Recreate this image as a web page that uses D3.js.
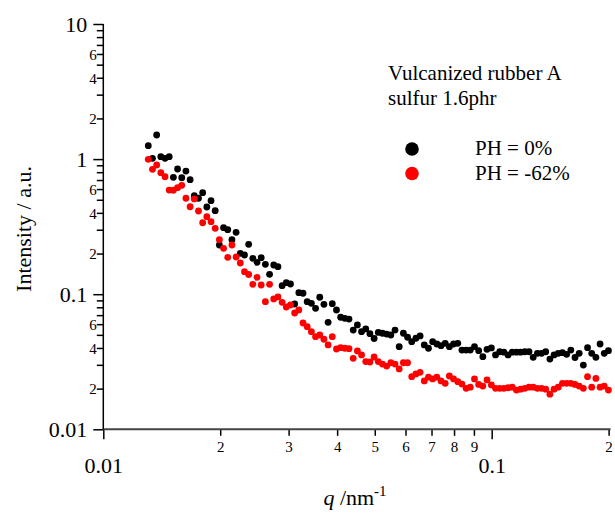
<!DOCTYPE html>
<html><head><meta charset="utf-8">
<script src="https://cdn.jsdelivr.net/npm/d3@7"></script>
<style>
body{margin:0;background:#fff}
svg{display:block}
</style>
</head><body>
<svg id="chart" width="615" height="516"></svg>
<script>
const q = [
0.013057,0.013385,0.013721,0.014065,0.014418,0.014780,0.015151,0.015532,0.015922,0.016321,
0.016731,0.017151,0.017581,0.018023,0.018475,0.018939,0.019414,0.019902,0.020401,0.020913,
0.021438,0.021976,0.022528,0.023094,0.023673,0.024267,0.024877,0.025501,0.026141,0.026797,
0.027470,0.028159,0.028866,0.029591,0.030334,0.031095,0.031876,0.032676,0.033496,0.034337,
0.035199,0.036082,0.036988,0.037917,0.038868,0.039844,0.040844,0.041869,0.042920,0.043998,
0.045102,0.046234,0.047395,0.048585,0.049804,0.051054,0.052336,0.053650,0.054997,0.056377,
0.057792,0.059243,0.060730,0.062255,0.063817,0.065419,0.067062,0.068745,0.070471,0.072240,
0.074053,0.075912,0.077818,0.079771,0.081774,0.083827,0.085931,0.088088,0.090300,0.092566,
0.094890,0.097272,0.099807,0.10231,0.10488,0.10751,0.11021,0.11298,0.11581,0.11872,
0.12170,0.12476,0.12789,0.13110,0.13439,0.13776,0.14122,0.14476,0.14840,0.15212,
0.15594,0.15986,0.16387,0.16798,0.17220,0.17652,0.18095,0.18550,0.19015,0.19493,
0.19982];

const intensityPH0 = [
1.257,1.014,1.508,1.042,1.014,1.042,0.733,0.845,0.728,0.816,
0.704,0.536,0.513,0.564,0.442,0.492,0.415,0.2313,0.3107,0.3003,
0.2532,0.2873,0.2008,0.1951,0.2341,0.1844,0.1722,0.1863,0.1665,0.1404,
0.1645,0.1598,0.1156,0.1217,0.1190,0.0846,0.1026,0.1016,0.0880,0.0856,
0.0786,0.0949,0.0842,0.0619,0.0851,0.0764,0.0675,0.0663,0.0655,0.0543,
0.0592,0.0528,0.0553,0.0510,0.0470,0.0521,0.0514,0.0507,0.0499,0.0543,
0.0409,0.0514,0.0480,0.0445,0.0472,0.0491,0.0421,0.0398,0.0445,0.0428,
0.0416,0.0433,0.0409,0.0428,0.0433,0.0386,0.0386,0.0386,0.0409,0.0382,
0.0345,0.0391,0.0400,0.0355,0.0375,0.0372,0.0355,0.0372,0.0372,0.0372,
0.0375,0.0375,0.0341,0.0365,0.0365,0.0375,0.0331,0.0355,0.0365,0.0369,
0.0359,0.0386,0.0340,0.0365,0.0299,0.0402,0.0365,0.0341,0.0428,0.0365,
0.0382];

const intensityPH62 = [
0.997,0.840,0.904,0.793,0.741,0.590,0.588,0.614,0.640,0.513,
0.444,0.507,0.413,0.338,0.375,0.344,0.3075,0.2532,0.2186,0.1875,
0.2313,0.1885,0.1702,0.1467,0.1399,0.1184,0.1334,0.1170,0.0880,0.1184,
0.0922,0.0954,0.0871,0.0804,0.0832,0.0726,0.0764,0.0612,0.0575,0.0528,
0.0485,0.0499,0.0464,0.0421,0.0485,0.0393,0.0402,0.0398,0.0395,0.0335,
0.0380,0.0355,0.0317,0.0315,0.0343,0.0317,0.0304,0.0294,0.0311,0.0304,
0.0280,0.0311,0.0311,0.0245,0.0257,0.0264,0.0228,0.0243,0.0236,0.0243,
0.0228,0.0219,0.0248,0.0236,0.0225,0.0216,0.0201,0.0205,0.0236,0.0215,
0.0209,0.0232,0.0213,0.0201,0.0201,0.0201,0.0203,0.0205,0.0195,0.0198,
0.0201,0.0205,0.0205,0.0201,0.0201,0.0198,0.0182,0.0198,0.0205,0.0219,
0.0219,0.0219,0.0215,0.0209,0.0201,0.0245,0.0205,0.0238,0.0205,0.0209,
0.0195];

const seriesNames = ["PH = 0%", "PH = -62%"];
const seriesColors = ["#000000", "#ff0000"];
const annotationLines = ["Vulcanized rubber A", "sulfur 1.6phr"];

const xMajorTicks = [0.01, 0.1];
const xMajorLabels = ["0.01", "0.1"];
const xMinorTicks = [0.02,0.03,0.04,0.05,0.06,0.07,0.08,0.09,0.2];
const xMinorLabels = ["2","3","4","5","6","7","8","9","2"];

const yMajorTicks = [0.01, 0.1, 1, 10];
const yMajorLabels = ["0.01", "0.1", "1", "10"];
const yMinorTicks = [0.02,0.03,0.04,0.05,0.06,0.07,0.08,0.09,
                     0.2,0.3,0.4,0.5,0.6,0.7,0.8,0.9,
                     2,3,4,5,6,7,8,9];
const yMinorLabelled = [2, 4, 6];

const FONT = "Liberation Serif";

const svg = d3.select("#chart");
const x = d3.scaleLog().domain([0.01, 0.2]).range([103.3, 608.6]);
const y = d3.scaleLog().domain([0.01, 10]).range([429.3, 24]);

// Y axis
const mant = v => Math.round(v / Math.pow(10, Math.floor(Math.log10(v) + 1e-9)));
const gyMin = svg.append("g").attr("transform", "translate(103.3,0)")
  .call(d3.axisLeft(y).tickValues(yMinorTicks).tickSize(6.5)
    .tickFormat(v => yMinorLabelled.includes(mant(v)) ? String(mant(v)) : ""));
gyMin.selectAll("text").attr("x", -6.5).attr("dy", "0.35em")
  .style("font-size", "15px").attr("text-anchor", "end");
const gyMaj = svg.append("g").attr("transform", "translate(103.3,0)")
  .call(d3.axisLeft(y).tickValues(yMajorTicks).tickSize(10)
    .tickFormat((v, i) => yMajorLabels[i]));
gyMaj.selectAll("text").attr("x", -16).attr("dy", "0.33em")
  .style("font-size", "22px").attr("text-anchor", "end");
[gyMin, gyMaj].forEach(g => {
  g.selectAll("line").attr("stroke", "#000").attr("stroke-width", 1.5);
  g.selectAll(".domain").remove();
});

// X axis
const gxMin = svg.append("g").attr("transform", "translate(0,429.3)")
  .call(d3.axisBottom(x).tickValues(xMinorTicks).tickSize(6.5)
    .tickFormat((v, i) => xMinorLabels[i]));
gxMin.selectAll("text").attr("y", 22.5).attr("dy", 0).style("font-size", "15px");
const gxMaj = svg.append("g").attr("transform", "translate(0,429.3)")
  .call(d3.axisBottom(x).tickValues(xMajorTicks).tickSize(10)
    .tickFormat((v, i) => xMajorLabels[i]));
gxMaj.selectAll("text").attr("y", 43.3).attr("dy", 0).style("font-size", "22px");
[gxMin, gxMaj].forEach(g => {
  g.selectAll("line").attr("stroke", "#000").attr("stroke-width", 1.5);
  g.selectAll(".domain").remove();
});

// axis lines
svg.append("line").attr("x1", x(0.01)).attr("x2", x(0.2) + 2)
  .attr("y1", y(0.01)).attr("y2", y(0.01))
  .attr("stroke", "#444").attr("stroke-width", 2);
svg.append("line").attr("x1", x(0.01)).attr("x2", x(0.01))
  .attr("y1", y(10)).attr("y2", y(0.01))
  .attr("stroke", "#000").attr("stroke-width", 1.5);

// axis titles
svg.append("text").attr("transform", "translate(31,229) rotate(-90)")
  .attr("text-anchor", "middle").style("font-size", "22px")
  .text("Intensity / a.u.");
const xt = svg.append("text").attr("x", 355).attr("y", 505)
  .attr("text-anchor", "middle").style("font-size", "22px");
xt.append("tspan").style("font-style", "italic").text("q");
xt.append("tspan").text(" /nm");
xt.append("tspan").attr("dy", -9).style("font-size", "15px").text("-1");

// data
const series = [intensityPH0, intensityPH62];
series.forEach((vals, s) => {
  svg.append("g").selectAll("circle").data(q.map((qq, i) => [qq, vals[i]]))
    .join("circle")
    .attr("cx", d => x(d[0])).attr("cy", d => y(d[1])).attr("r", 3.4)
    .attr("fill", seriesColors[s]);
});

// annotation and legend
annotationLines.forEach((t, i) => {
  svg.append("text").attr("x", 388).attr("y", 80 + i * 25)
    .style("font-size", "21px").text(t);
});
seriesNames.forEach((t, i) => {
  svg.append("circle").attr("cx", 412).attr("cy", 149 + i * 24.5).attr("r", 6.8)
    .attr("fill", seriesColors[i]);
  svg.append("text").attr("x", 475).attr("y", 155 + i * 24.5)
    .style("font-size", "21px").text(t);
});

// serif font on every text element and group
svg.selectAll("g").attr("font-family", FONT);
svg.selectAll("text, tspan").style("font-family", FONT).style("fill", "#000");
</script>
</body></html>
